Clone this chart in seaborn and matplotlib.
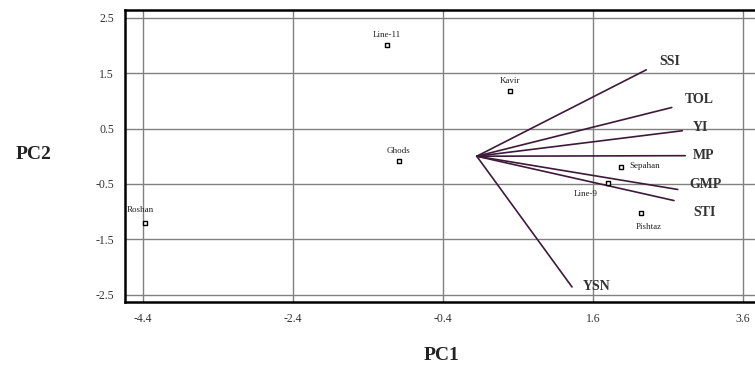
import pandas as pd
import seaborn as sns
import matplotlib.pyplot as plt

# genotype scores (PC1, PC2)
genotypes = ["Line-11", "Kavir", "Ghods", "Roshan", "Sepahan", "Line-9", "Pishtaz"]
geno_pc1 = [-1.15, 0.49, -0.99, -4.37, 1.97, 1.80, 2.24]
geno_pc2 = [2.01, 1.17, -0.09, -1.21, -0.20, -0.49, -1.03]

# index vectors (start at origin)
indices = ["SSI", "TOL", "YI", "MP", "GMP", "STI", "YSN"]
vec_pc1 = [2.31, 2.65, 2.79, 2.83, 2.73, 2.68, 1.32]
vec_pc2 = [1.56, 0.88, 0.46, 0.01, -0.60, -0.80, -2.36]
origin = (0.05, 0.0)

x_ticks = [-4.4, -2.4, -0.4, 1.6, 3.6]
y_ticks = [-2.5, -1.5, -0.5, 0.5, 1.5, 2.5]

sns.set_style("white")
plt.rcParams["font.family"] = ["Liberation Serif", "DejaVu Serif"]

fig = plt.figure(figsize=(7.55, 3.70), dpi=100)
ax = fig.add_axes([0.1656, 0.184, 0.8344, 0.789])

# vectors as long table: origin + end per index
rows = []
for name, x, y in zip(indices, vec_pc1, vec_pc2):
    rows.append({"var": name, "order": 0, "PC1": origin[0], "PC2": origin[1]})
    rows.append({"var": name, "order": 1, "PC1": x, "PC2": y})
vec_df = pd.DataFrame(rows)
sns.lineplot(data=vec_df, x="PC1", y="PC2", units="var", estimator=None,
             sort=False, color="#3e1a3a", linewidth=1.2, ax=ax, zorder=3)

geno_df = pd.DataFrame({"name": genotypes, "PC1": geno_pc1, "PC2": geno_pc2})
sns.scatterplot(data=geno_df, x="PC1", y="PC2", marker="s", s=12,
                facecolor="white", edgecolor="black", linewidth=1.0,
                ax=ax, zorder=4)

# label offsets in pixels (label placement only)
geno_off = {"Line-11": (0, 10, "center"), "Kavir": (0, 10, "center"),
            "Ghods": (0, 10, "center"), "Roshan": (-5, 13, "center"),
            "Sepahan": (9, 1, "left"), "Line-9": (-22, -11, "center"),
            "Pishtaz": (8, -14, "center")}
for name, x, y in zip(genotypes, geno_pc1, geno_pc2):
    dx, dy, ha = geno_off[name]
    ax.annotate(name, (x, y), xytext=(dx, dy), textcoords="offset pixels",
                ha=ha, va="center", fontsize=6.5, color="#222222")

vec_off = {"SSI": (13, 8), "TOL": (13, 8), "YI": (11, 3), "MP": (8, 0),
           "GMP": (12, 5), "STI": (19, -12), "YSN": (11, 0)}
for name, x, y in zip(indices, vec_pc1, vec_pc2):
    dx, dy = vec_off[name]
    ax.annotate(name, (x, y), xytext=(dx, dy), textcoords="offset pixels",
                ha="left", va="center", fontsize=10, fontweight="bold",
                color="#333333")

ax.set_xlim(-4.64, 3.76)
ax.set_ylim(-2.63, 2.64)
ax.set_xticks(x_ticks)
ax.set_yticks(y_ticks)
ax.set_xticklabels([str(t) for t in x_ticks])
ax.set_yticklabels([str(t) for t in y_ticks])
ax.grid(True, color="#808080", linewidth=1.0)
ax.set_axisbelow(True)
ax.tick_params(axis="both", length=3, color="#808080", labelsize=8.5,
               labelcolor="#333333", pad=5)

for side in ["left", "bottom", "top"]:
    ax.spines[side].set_color("black")
    ax.spines[side].set_linewidth(1.8)
ax.spines["right"].set_visible(False)

ax.set_xlabel("")
ax.set_ylabel("")
fig.text(442 / 755, 1 - 356 / 370, "PC1", ha="center", va="center",
         fontsize=14, fontweight="bold", color="#222222")
fig.text(34 / 755, 1 - 155 / 370, "PC2", ha="center", va="center",
         fontsize=14, fontweight="bold", color="#222222")

fig.savefig("out.png", dpi=100)
